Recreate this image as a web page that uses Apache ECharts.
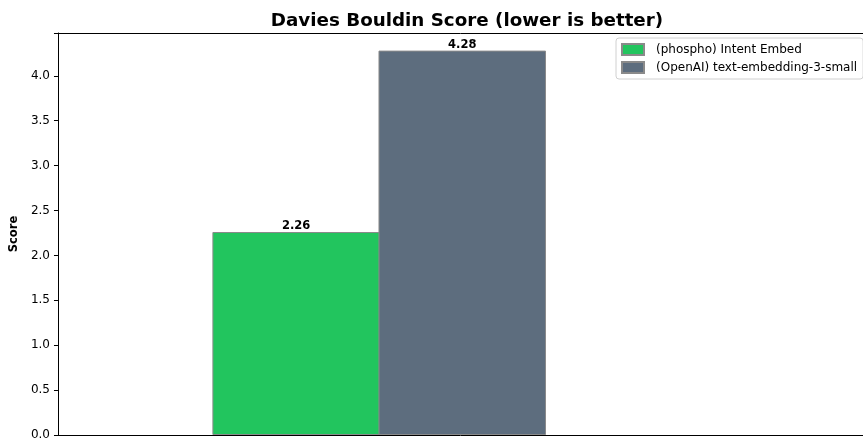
<!DOCTYPE html>
<html>
<head>
<meta charset="utf-8">
<script src="https://cdn.jsdelivr.net/npm/echarts@6/dist/echarts.min.js"></script>
<style>
  html, body { margin: 0; padding: 0; background: #fff; }
  #chart { width: 863px; height: 441px; }
</style>
</head>
<body>
<div id="chart"></div>
<script>
// Davies-Bouldin scores per embedding model (lower is better)
const models = ['(phospho) Intent Embed', '(OpenAI) text-embedding-3-small'];
const scores = [2.26, 4.28];
const positions = [-0.5, 0.5];
const colors = ['#22c55e', '#5d6d7e'];
const yTicks = [0, 0.5, 1, 1.5, 2, 2.5, 3, 3.5, 4];

const font = 'DejaVu Sans';
const chart = echarts.init(document.getElementById('chart'), null, { renderer: 'canvas' });

const series = models.map((name, i) => ({
  name: name,
  type: 'bar',
  barWidth: 167.5,
  barGap: '-100%',
  data: [[positions[i], scores[i]]],
  itemStyle: { color: colors[i], borderColor: '#8a8a8a', borderWidth: 1 },
  label: {
    show: true,
    position: 'top',
    distance: 0,
    formatter: p => p.value[1].toFixed(2),
    color: '#000',
    fontWeight: 'bold',
    fontSize: 11.5,
    fontFamily: font
  }
}));

chart.setOption({
  animation: false,
  backgroundColor: '#fff',
  title: {
    text: 'Davies Bouldin Score (lower is better)',
    left: 462,
    textAlign: 'center',
    top: 7,
    textStyle: { fontFamily: font, fontWeight: 'bold', fontSize: 18.3, color: '#000' }
  },
  legend: {
    orient: 'vertical',
    left: 616,
    top: 38,
    itemWidth: 22,
    itemHeight: 11,
    itemGap: 5,
    padding: [5, 6, 5, 5],
    borderColor: '#d0d0d0',
    borderWidth: 1,
    borderRadius: 3,
    backgroundColor: '#fff',
    icon: 'rect',
    textStyle: { fontFamily: font, fontSize: 12, color: '#000', padding: [0, 0, 0, 7] },
    data: models
  },
  grid: { left: 56, right: -5, top: 33, bottom: 4, containLabel: false },
  xAxis: [
    {
      type: 'value',
      min: -1.934,
      max: 2.913,
      position: 'bottom',
      axisLine: { show: true, onZero: false, lineStyle: { color: '#000', width: 1 } },
      axisTick: { show: false },
      axisLabel: { show: false },
      splitLine: { show: false }
    },
    {
      type: 'value',
      min: -1.934,
      max: 2.913,
      position: 'top',
      axisLine: { show: true, onZero: false, lineStyle: { color: '#000', width: 1 } },
      axisTick: { show: false },
      axisLabel: { show: false },
      splitLine: { show: false }
    }
  ],
  yAxis: {
    type: 'value',
    position: 'left',
    min: 0,
    max: 4.476,
    interval: 0.5,
    name: 'Score',
    nameLocation: 'middle',
    nameGap: 32,
    nameTextStyle: { fontFamily: font, fontWeight: 'bold', fontSize: 11.5, color: '#000' },
    axisLine: { show: true, onZero: false, lineStyle: { color: '#000', width: 1 } },
    axisTick: { show: true, length: 4, lineStyle: { color: '#000' } },
    axisLabel: {
      fontFamily: font,
      fontSize: 12,
      color: '#000',
      margin: 8,
      formatter: v => (yTicks.includes(v) ? v.toFixed(1) : '')
    },
    splitLine: { show: false }
  },
  series: series
});
</script>
</body>
</html>
